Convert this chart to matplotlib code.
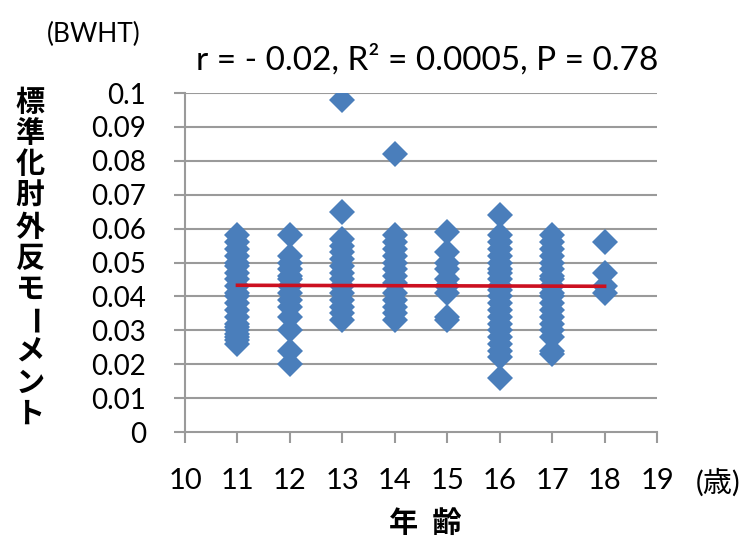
import matplotlib
matplotlib.use("Agg")
import matplotlib.pyplot as plt
import numpy as np

plt.rcParams['font.family'] = ['Lato', 'Noto Sans CJK JP', 'DejaVu Sans']

# ages and standardized elbow valgus moment values
age_11 = [0.058, 0.056, 0.054, 0.052, 0.050, 0.049, 0.047, 0.045, 0.043, 0.041,
          0.040, 0.038, 0.036, 0.034, 0.032, 0.031, 0.030, 0.029, 0.028, 0.027,
          0.026]
age_12 = [0.058, 0.052, 0.050, 0.048, 0.046, 0.045, 0.043, 0.041, 0.039, 0.037,
          0.034, 0.030, 0.024, 0.020]
age_13 = [0.098, 0.065, 0.057, 0.055, 0.053, 0.051, 0.049, 0.047, 0.045, 0.043,
          0.041, 0.039, 0.037, 0.035, 0.033]
age_14 = [0.082, 0.058, 0.056, 0.054, 0.052, 0.050, 0.048, 0.046, 0.044, 0.041,
          0.039, 0.037, 0.035, 0.033]
age_15 = [0.059, 0.053, 0.050, 0.048, 0.045, 0.043, 0.041, 0.034, 0.033]
age_16 = [0.064, 0.058, 0.056, 0.054, 0.052, 0.050, 0.048, 0.047, 0.045, 0.043,
          0.042, 0.040, 0.038, 0.036, 0.034, 0.032, 0.030, 0.028, 0.026, 0.024,
          0.022, 0.016]
age_17 = [0.058, 0.056, 0.054, 0.052, 0.050, 0.048, 0.046, 0.045, 0.043, 0.041,
          0.040, 0.038, 0.036, 0.034, 0.032, 0.030, 0.028, 0.024, 0.023]
age_18 = [0.056, 0.047, 0.043, 0.041]

groups = {11: age_11, 12: age_12, 13: age_13, 14: age_14,
          15: age_15, 16: age_16, 17: age_17, 18: age_18}

x_ticks = list(range(10, 20))
y_ticks = [0, 0.01, 0.02, 0.03, 0.04, 0.05, 0.06, 0.07, 0.08, 0.09, 0.1]
stats_text = "r = - 0.02, R\u00b2 = 0.0005, P = 0.78"
ylabel_chars = list("標準化肘外反モーメント")

xs = np.concatenate([[k] * len(v) for k, v in groups.items()]).astype(float)
ys = np.concatenate([v for v in groups.values()])

fig = plt.figure(figsize=(7.54, 5.43), dpi=100)
ax = fig.add_axes([0.2454, 0.2044, 0.626, 0.6243])

grid_c = '#9a9a9a'
for y in y_ticks[1:]:
    ax.axhline(y, color=grid_c, lw=1.5, zorder=0)

ax.plot(xs, ys, linestyle='none', marker='D', ms=13, color='#4a7ebb',
        markeredgewidth=0, zorder=2)

slope, icpt = np.polyfit(xs, ys, 1)
fx = np.array([11, 18])
ax.plot(fx, slope * fx + icpt, color='#cc1020', lw=2.6, zorder=3)

ax.set_xlim(10, 19)
ax.set_ylim(0, 0.1)
ax.set_xticks(x_ticks)
ax.set_yticks(y_ticks)
ax.set_yticklabels([f"{v:g}" for v in y_ticks])
for s in ['top', 'right']:
    ax.spines[s].set_visible(False)
for s in ['left', 'bottom']:
    ax.spines[s].set_color(grid_c)
    ax.spines[s].set_linewidth(1.5)
ax.tick_params(axis='both', colors=grid_c, length=8, width=1.5,
               labelcolor='black')
ax.tick_params(axis='x', pad=18, labelsize=21)
ax.tick_params(axis='y', pad=20, labelsize=20)

fig.text(0.125, 0.936, "(BWHT)", ha='center', va='center', fontsize=19)
fig.text(0.566, 0.890, stats_text, ha='center', va='center', fontsize=24)
fig.text(0.953, 0.112, "(歳)", ha='center', va='center', fontsize=21)
fig.text(0.564, 0.037, "年  齢", ha='center', va='center', fontsize=21,
         fontweight='bold')

for i, ch in enumerate(ylabel_chars):
    ypx = 102 + i * 31.3
    rot = -90 if ch == 'ー' else 0
    fig.text(0.040, 1 - ypx / 543, ch, ha='center', va='center', fontsize=21,
             fontweight='bold', rotation=rot)

fig.savefig("out.png", dpi=100)
